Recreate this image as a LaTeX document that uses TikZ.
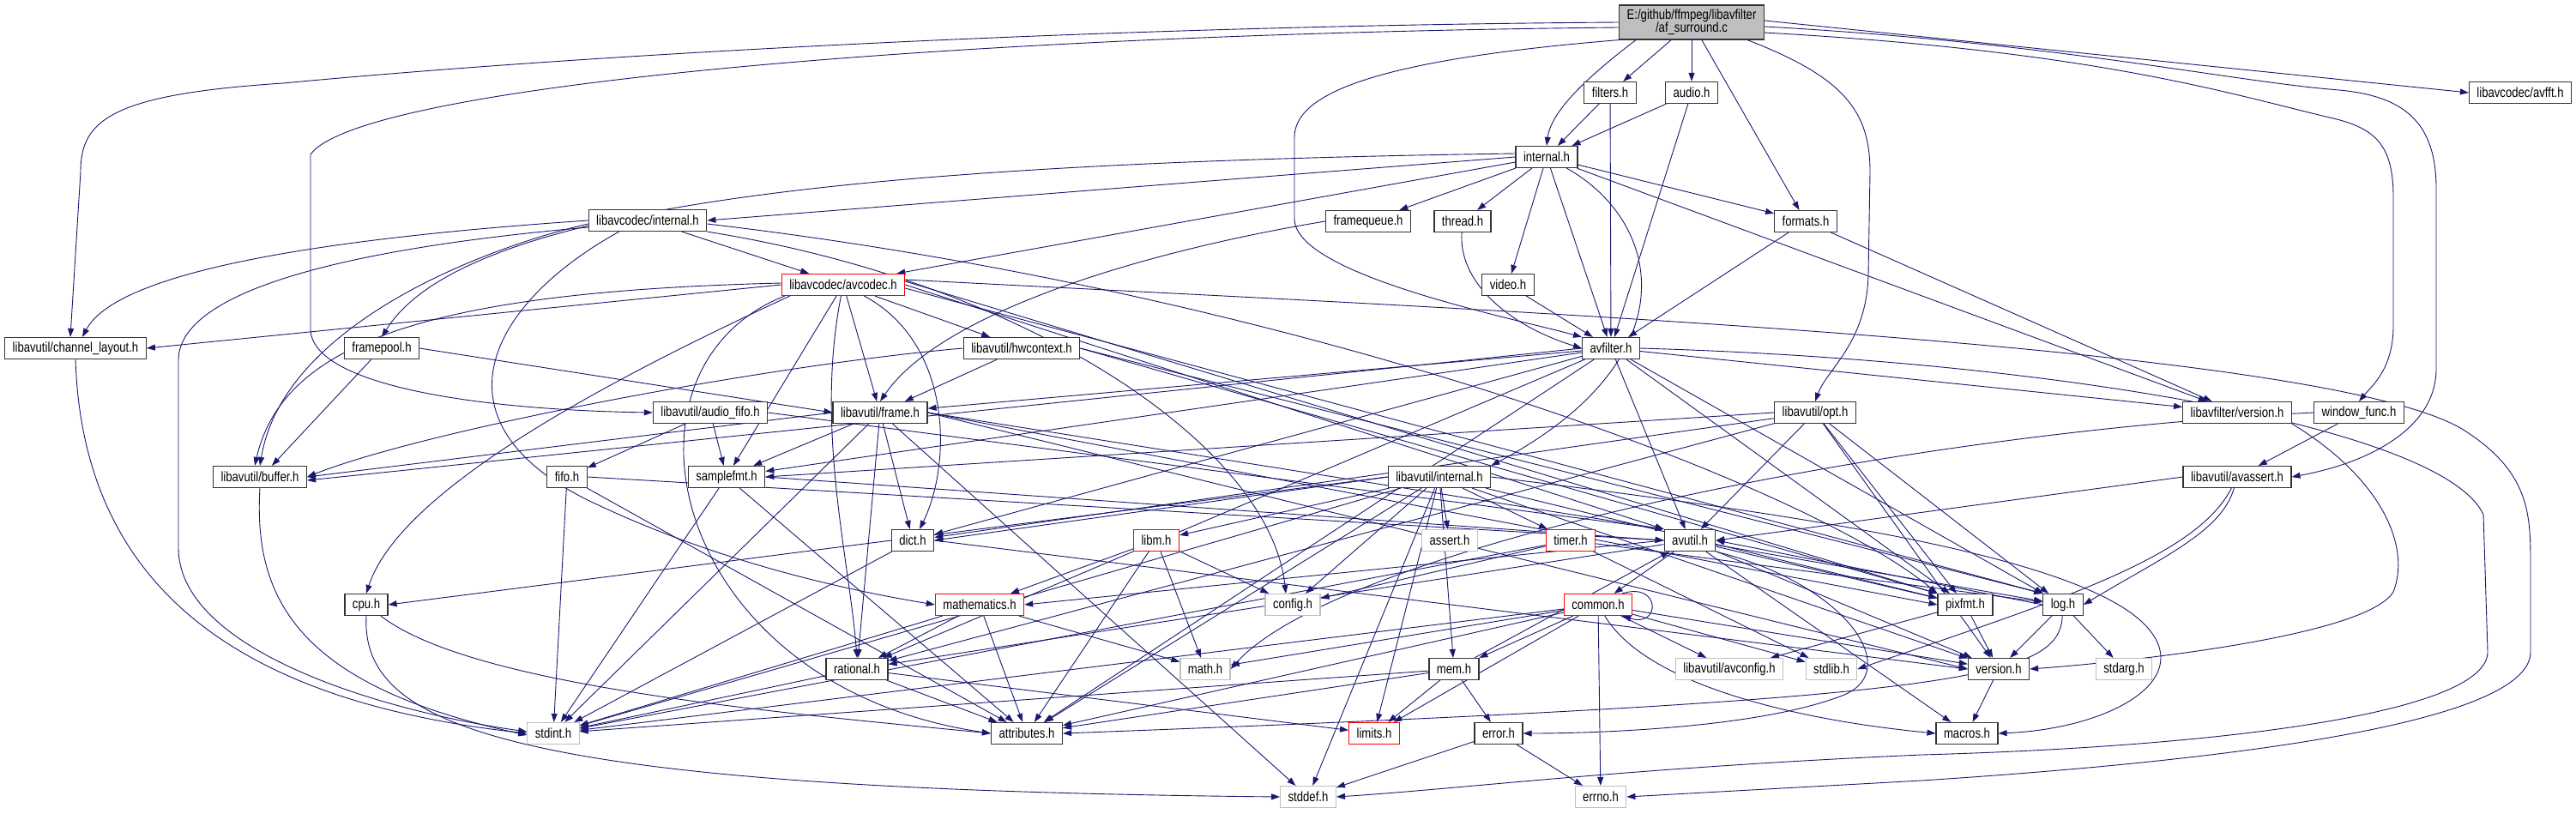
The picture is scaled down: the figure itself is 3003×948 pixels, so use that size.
\documentclass[tikz,border=0pt]{standalone}
\usepackage{fontspec}
\setmainfont{Liberation Sans}[FakeStretch=0.82]
\usetikzlibrary{arrows.meta,backgrounds}

\definecolor{edgeblue}{RGB}{25,25,112}
\definecolor{boxgray}{RGB}{191,191,191}

\begin{document}
\begin{tikzpicture}[
        x=1pt,y=-1pt,
        file/.style={
            rectangle,
            draw=black!80,
            line width=1.2pt,
            fill=white,
            font=\fontsize{16}{15}\selectfont,
            inner xsep=9pt,
            inner ysep=0pt,
            minimum height=25pt
        },
        cutfile/.style={
            file,
            draw=red
        },
        sysfile/.style={
            file,
            draw=boxgray
        },
        mainfile/.style={
            file,
            fill=boxgray,
            align=center,
            minimum height=40pt
        },
        arrow/.style={
            -{Triangle[length=10pt,width=7pt]},
            draw=edgeblue,
            line width=0.9pt
        }
    ]
        \useasboundingbox (0,0) rectangle (3003,948);

        \node[mainfile] (root) at (1972,26) {E:/github/ffmpeg/libavfilter\\/af\_surround.c};
        \node[file] (filters) at (1877,108) {filters.h};
        \node[file] (audio) at (1972,108) {audio.h};
        \node[file] (avfft) at (2938,108) {libavcodec/avfft.h};
        \node[file] (lfint) at (1803,183) {internal.h};
        \node[file] (lcint) at (755,257) {libavcodec/internal.h};
        \node[file] (fqueue) at (1595,258) {framequeue.h};
        \node[file] (thread) at (1705,258) {thread.h};
        \node[file] (formats) at (2105,258) {formats.h};
        \node[cutfile] (avcodec) at (983,332) {libavcodec/avcodec.h};
        \node[file] (video) at (1758,332) {video.h};
        \node[file] (chlayout) at (88,406) {libavutil/channel\_layout.h};
        \node[file] (fpool) at (445,406) {framepool.h};
        \node[file] (hwctx) at (1191,406) {libavutil/hwcontext.h};
        \node[file] (avfilter) at (1878,406) {avfilter.h};
        \node[file] (afifo) at (828,481) {libavutil/audio\_fifo.h};
        \node[file] (frame) at (1026,481) {libavutil/frame.h};
        \node[file] (opt) at (2116,481) {libavutil/opt.h};
        \node[file] (lfver) at (2608,481) {libavfilter/version.h};
        \node[file] (winfunc) at (2750,481) {window\_func.h};
        \node[file] (buffer) at (303,556) {libavutil/buffer.h};
        \node[file] (fifo) at (661,556) {fifo.h};
        \node[file] (sfmt) at (847,556) {samplefmt.h};
        \node[file] (luint) at (1678,556) {libavutil/internal.h};
        \node[file] (avassert) at (2608,556) {libavutil/avassert.h};
        \node[file] (dict) at (1064,630) {dict.h};
        \node[cutfile] (libm) at (1348,630) {libm.h};
        \node[sysfile] (assert) at (1690,630) {assert.h};
        \node[cutfile] (timer) at (1831,630) {timer.h};
        \node[file] (avutil) at (1970,630) {avutil.h};
        \node[file] (cpu) at (427,705) {cpu.h};
        \node[cutfile] (mathem) at (1142,705) {mathematics.h};
        \node[sysfile] (config) at (1507,705) {config.h};
        \node[cutfile] (common) at (1863,705) {common.h};
        \node[file] (pixfmt) at (2291,705) {pixfmt.h};
        \node[file] (log) at (2405,705) {log.h};
        \node[file] (rational) at (999,780) {rational.h};
        \node[sysfile] (math) at (1405,780) {math.h};
        \node[file] (mem) at (1695,780) {mem.h};
        \node[sysfile] (avconfig) at (2016,780) {libavutil/avconfig.h};
        \node[sysfile] (stdlib) at (2135,780) {stdlib.h};
        \node[file] (lversion) at (2330,780) {version.h};
        \node[sysfile] (stdarg) at (2476,780) {stdarg.h};
        \node[sysfile] (stdint) at (645,855) {stdint.h};
        \node[file] (attrib) at (1197,855) {attributes.h};
        \node[cutfile] (limits) at (1602,855) {limits.h};
        \node[file] (error) at (1747,855) {error.h};
        \node[file] (macros) at (2293,855) {macros.h};
        \node[sysfile] (stddef) at (1525,929) {stddef.h};
        \node[sysfile] (errno) at (1866,929) {errno.h};

        \begin{pgfonlayer}{background}
        \fill[white] (0,0) rectangle (3003,948);

        \draw[arrow] (root.west) .. controls (1300,30) and (700,62) .. (330,97) .. controls (130,110) and (94,140) .. (94,200) -- ([xshift=-6pt]chlayout.north);
        \draw[arrow] ([yshift=-6pt]root.west) .. controls (1100,40) and (420,100) .. (362,180) -- (362,385) .. controls (366,450) and (560,478) .. (afifo.west);
        \draw[arrow] (root.south west) .. controls (1600,70) and (1509,110) .. (1509,160) -- (1509,255) .. controls (1509,320) and (1760,370) .. (avfilter.north west);
        \draw[arrow] ([xshift=20pt]root.south west) .. controls (1850,90) and (1808,130) .. (lfint.north);
        \draw[arrow] (root) -- (filters);
        \draw[arrow] (root) -- (audio);
        \draw[arrow] (root) -- (formats);
        \draw[arrow] ([xshift=-20pt]root.south east) .. controls (2150,90) and (2180,130) .. (2180,200) -- (2178,320) .. controls (2176,400) and (2130,430) .. (opt.north);
        \draw[arrow] ([yshift=-12pt]root.east) .. controls (2450,60) and (2600,110) .. (2720,138) .. controls (2770,150) and (2790,170) .. (2790,230) -- (2790,380) .. controls (2790,430) and (2765,450) .. (winfunc.north);
        \draw[arrow] ([yshift=-5pt]root.east) .. controls (2400,50) and (2600,95) .. (2727,105) .. controls (2800,112) and (2840,140) .. (2840,220) -- (2840,430) .. controls (2840,500) and (2760,540) .. (avassert.east);
        \draw[arrow] ([yshift=2pt]root.east) -- (avfft.west);

        \draw[arrow] (filters) -- (lfint);
        \draw[arrow] (filters) -- (avfilter);
        \draw[arrow] (audio) -- (lfint);
        \draw[arrow] (audio) -- (avfilter);

        \draw[arrow] (lfint.west) -- (lcint.east);
        \draw[arrow] ([yshift=4pt]lfint.west) .. controls (1000,190) and (540,240) .. (fpool.north);
        \draw[arrow] ([yshift=-6pt]lfint.west) -- ([xshift=-10pt]avcodec.north east);
        \draw[arrow] (lfint) -- (fqueue);
        \draw[arrow] (lfint) -- (thread);
        \draw[arrow] (lfint) -- (video);
        \draw[arrow] (lfint) -- (avfilter);
        \draw[arrow] (lfint) -- (formats);
        \draw[arrow] (lfint) -- (lfver);
        \draw[arrow] (lfint) .. controls (1940,260) and (1970,420) .. (luint.north east);

        \draw[arrow] (lcint.west) .. controls (420,275) and (140,310) .. ([xshift=8pt]chlayout.north);
        \draw[arrow] ([yshift=-4pt]lcint.west) .. controls (560,290) and (330,380) .. (buffer.north);
        \draw[arrow] ([yshift=-8pt]lcint.west) .. controls (400,290) and (208,340) .. (208,420) -- (208,640) .. controls (210,760) and (450,830) .. ([yshift=2pt]stdint.west);
        \draw[arrow] (lcint) -- (avcodec);
        \draw[arrow] ([xshift=36pt]lcint.south west) .. controls (560,360) and (500,500) .. (700,590) .. controls (850,660) and (1000,690) .. (mathem.west);
        \draw[arrow] ([yshift=-4pt]lcint.east) .. controls (1500,340) and (2100,560) .. (pixfmt.north west);
        \draw[arrow] (lcint.south east) .. controls (1200,330) and (1480,520) .. ([xshift=-8pt]config.north);

        \draw[arrow] (avcodec.west) -- (chlayout.east);
        \draw[arrow] ([yshift=2pt]avcodec.west) .. controls (500,340) and (330,400) .. ([xshift=-6pt]buffer.north);
        \draw[arrow] (avcodec) -- (sfmt);
        \draw[arrow] (avcodec) -- (frame);
        \draw[arrow] (avcodec) -- (hwctx);
        \draw[arrow] (avcodec) .. controls (1110,400) and (1110,540) .. ([xshift=8pt]dict.north);
        \draw[arrow] ([xshift=10pt]avcodec.south west) .. controls (760,420) and (470,560) .. (cpu.north);
        \draw[arrow] ([xshift=4pt]avcodec.south west) .. controls (700,430) and (780,800) .. (attrib.west);
        \draw[arrow] (avcodec) .. controls (950,500) and (990,650) .. (rational.north);
        \draw[arrow] (avcodec.east) -- (avutil.north west);
        \draw[arrow] ([yshift=-4pt]avcodec.east) -- (log.north west);
        \draw[arrow] ([yshift=4pt]avcodec.east) -- (pixfmt.north west);
        \draw[arrow] ([yshift=6pt]avcodec.east) .. controls (1700,360) and (2700,400) .. (2870,500) .. controls (2950,550) and (2950,600) .. (2950,660) -- (2950,760) .. controls (2950,830) and (2700,880) .. (2240,910) -- (errno.east);

        \draw[arrow] (hwctx.west) .. controls (900,425) and (500,500) .. (buffer.east);
        \draw[arrow] (hwctx) -- (frame);
        \draw[arrow] (hwctx.east) -- (log.north west);
        \draw[arrow] (hwctx.east) -- (pixfmt.north west);

        \draw[arrow] (fpool) -- ([xshift=14pt]buffer.north);
        \draw[arrow] (fpool.east) -- (frame.west);
        \draw[arrow] (fqueue.west) .. controls (1350,290) and (1100,360) .. (frame.north);
        \draw[arrow] (thread) .. controls (1700,330) and (1760,380) .. (avfilter.west);
        \draw[arrow] (video) -- (avfilter);
        \draw[arrow] (formats) -- (avfilter);
        \draw[arrow] (formats) -- (lfver);

        \draw[arrow] (avfilter) -- (attrib);
        \draw[arrow] (avfilter) -- (avutil);
        \draw[arrow] (avfilter.west) -- ([yshift=-4pt]buffer.east);
        \draw[arrow] (avfilter) -- (dict);
        \draw[arrow] (avfilter) -- (frame);
        \draw[arrow] (avfilter) -- (log);
        \draw[arrow] (avfilter) -- (sfmt);
        \draw[arrow] (avfilter) -- (pixfmt);
        \draw[arrow] (avfilter) -- (rational);
        \draw[arrow] (avfilter) -- (lfver);
        \draw[arrow] (avfilter.east) .. controls (2400,420) and (2850,500) .. (2895,600) -- (2900,760) .. controls (2900,830) and (2600,870) .. (2240,880) .. controls (1900,895) and (1700,920) .. (stddef.east);

        \draw[arrow] (opt) -- (rational);
        \draw[arrow] (opt) -- (dict);
        \draw[arrow] (opt.west) -- (sfmt.east);
        \draw[arrow] (opt) -- (avutil);
        \draw[arrow] (opt) -- (log);
        \draw[arrow] (opt) -- (pixfmt);
        \draw[arrow] (opt) -- (lversion);

        \draw[arrow] (afifo.east) -- (avutil.north west);
        \draw[arrow] (afifo) -- (fifo);
        \draw[arrow] (afifo) -- (sfmt);

        \draw[arrow] (lfver.south east) .. controls (2780,560) and (2810,640) .. (2790,690) .. controls (2760,740) and (2500,770) .. (lversion.east);
        \draw[arrow] (winfunc.west) .. controls (2200,505) and (1560,640) .. (math.east);
        \draw[arrow] (winfunc) -- (avassert);
        \draw[arrow] (avassert.west) -- (avutil.east);
        \draw[arrow] (avassert) .. controls (2590,620) and (2520,650) .. (log.east);
        \draw[arrow] (avassert) .. controls (2560,650) and (2400,700) .. (stdlib.east);

        \draw[arrow] (chlayout.south) .. controls (97,700) and (300,820) .. (stdint.west);
        \draw[arrow] (buffer.south) .. controls (295,700) and (350,800) .. ([yshift=-2pt]stdint.west);
        \draw[arrow] (fifo) -- (stdint);
        \draw[arrow] (fifo) -- (attrib);
        \draw[arrow] (fifo.east) -- (avutil.west);
        \draw[arrow] (sfmt) -- (stdint);
        \draw[arrow] (sfmt) -- (attrib);
        \draw[arrow] (sfmt.east) -- (avutil.west);

        \draw[arrow] (frame) -- (stddef);
        \draw[arrow] (frame) -- (stdint);
        \draw[arrow] (frame.east) -- (avutil.north west);
        \draw[arrow] (frame.west) -- (buffer.east);
        \draw[arrow] (frame) -- (dict);
        \draw[arrow] (frame) -- (rational);
        \draw[arrow] (frame) -- (sfmt);
        \draw[arrow] (frame.east) -- (pixfmt.west);
        \draw[arrow] (frame.east) -- (lversion.west);

        \draw[arrow] (dict) -- (stdint);
        \draw[arrow] (dict.east) -- (lversion.west);
        \draw[arrow] (cpu.south) .. controls (420,850) and (600,920) .. (stddef.west);
        \draw[arrow] (cpu) .. controls (550,800) and (900,830) .. (attrib.west);

        \draw[arrow] (rational) -- (stdint);
        \draw[arrow] (rational) -- (limits);
        \draw[arrow] (rational) -- (attrib);
        \draw[arrow] (mathem) -- (stdint);
        \draw[arrow] (mathem) -- (math);
        \draw[arrow] (mathem) -- (attrib);
        \draw[arrow] (mathem) -- (rational);
        \draw[arrow] (libm) -- (math);
        \draw[arrow] (libm) -- (config);
        \draw[arrow] (libm) -- (attrib);
        \draw[arrow] (libm) -- (mathem);

        \draw[arrow] (luint) -- (limits);
        \draw[arrow] (luint) -- (stdint);
        \draw[arrow] (luint) -- (stddef);
        \draw[arrow] (luint) -- (assert);
        \draw[arrow] (luint) -- (config);
        \draw[arrow] (luint) -- (attrib);
        \draw[arrow] (luint) -- (timer);
        \draw[arrow] (luint.west) -- (cpu.east);
        \draw[arrow] (luint.west) -- (dict.east);
        \draw[arrow] (luint) -- (mem);
        \draw[arrow] (luint) -- (pixfmt);
        \draw[arrow] (luint) -- (lversion);
        \draw[arrow] (luint) -- (libm);
        \draw[arrow] (luint.east) .. controls (2100,600) and (2450,650) .. (2510,740) .. controls (2550,800) and (2450,850) .. (macros.east);

        \draw[arrow] (timer) -- (config);
        \draw[arrow] (timer) -- (stdlib);
        \draw[arrow] (timer) -- (log);
        \draw[arrow] (timer) -- (stdint);

        \draw[arrow] (avutil) -- (common);
        \draw[arrow] (avutil.south east) .. controls (2150,680) and (2220,780) .. (2150,810) .. controls (2050,850) and (1850,855) .. (error.east);
        \draw[arrow] (avutil) -- (rational);
        \draw[arrow] (avutil) -- (lversion);
        \draw[arrow] (avutil) -- (macros);
        \draw[arrow] (avutil.west) -- (mathem.east);
        \draw[arrow] (avutil) -- (log);
        \draw[arrow] (avutil) -- (pixfmt);

        \draw[arrow] (common) -- (errno);
        \draw[arrow] (common) -- (limits);
        \draw[arrow] (common) -- (math);
        \draw[arrow] (common) -- (stdint);
        \draw[arrow] (common) -- (stdlib);
        \draw[arrow] (common) -- (attrib);
        \draw[arrow] (common) -- (lversion);
        \draw[arrow] (common) -- (avconfig);
        \draw[arrow] (common) -- (mem);
        \draw[arrow] (common) .. controls (1920,800) and (2100,840) .. (macros.west);
        \draw[arrow] ([xshift=-12pt]common.north east) .. controls +(45,-14) and +(45,14) .. ([xshift=-12pt]common.south east);

        \draw[arrow] (mem) -- (limits);
        \draw[arrow] (mem) -- (stdint);
        \draw[arrow] (mem) -- (attrib);
        \draw[arrow] (mem) -- (error);
        \draw[arrow] (mem) -- (avutil);
        \draw[arrow] (error) -- (errno);
        \draw[arrow] (error) -- (stddef);

        \draw[arrow] (log) -- (stdarg);
        \draw[arrow] (log.west) -- (avutil.east);
        \draw[arrow] (log) .. controls (2400,790) and (2300,815) .. (attrib.east);
        \draw[arrow] (log) -- (lversion);
        \draw[arrow] (pixfmt) -- (avconfig);
        \draw[arrow] (pixfmt) -- (lversion);
        \draw[arrow] (lversion) -- (macros);
        \end{pgfonlayer}

    \end{tikzpicture}
\end{document}
